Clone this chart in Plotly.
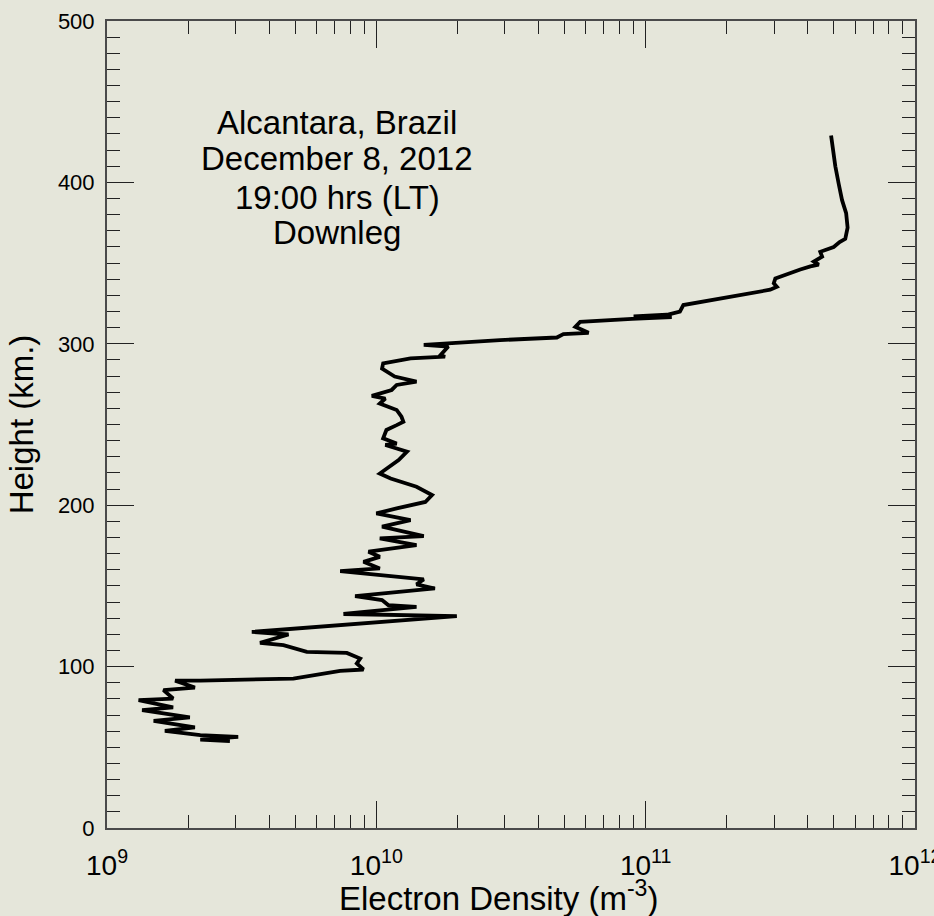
import plotly.graph_objects as go

# Electron density profile, rocket downleg (m^-3 vs. km)
density = [
    4.88e11, 4.95e11, 5.06e11, 5.21e11, 5.36e11, 5.55e11, 5.62e11, 5.51e11, 5.25e11, 4.99e11,
    4.45e11, 4.52e11, 4.21e11, 4.39e11, 4.09e11, 3.75e11, 3.35e11, 3.03e11, 2.99e11, 3.07e11,
    2.90e11, 2.38e11, 1.84e11, 1.38e11, 1.34e11, 1.20e11, 9.02e10, 1.25e11, 8.90e10, 5.71e10,
    5.48e10, 6.14e10, 4.95e10, 4.68e10, 2.88e10, 1.88e10, 1.50e10, 1.85e10, 1.73e10, 1.80e10,
    1.34e10, 1.06e10, 1.05e10, 1.17e10, 1.41e10, 1.19e10, 1.14e10, 9.62e9, 1.08e10, 1.03e10,
    1.19e10, 1.24e10, 1.26e10, 1.19e10, 1.09e10, 1.06e10, 1.19e10, 1.08e10, 1.30e10, 1.21e10,
    1.09e10, 1.03e10, 1.13e10, 1.41e10, 1.61e10, 1.52e10, 1.19e10, 1.00e10, 1.34e10, 1.05e10,
    1.50e10, 1.03e10, 1.41e10, 9.35e9, 1.03e10, 8.96e9, 1.03e10, 7.34e9, 1.50e10, 1.41e10,
    1.65e10, 8.34e9, 1.05e10, 1.11e10, 1.41e10, 7.55e9, 1.99e10, 8.71e9, 3.45e9, 4.72e9,
    3.70e9, 4.52e9, 5.52e9, 7.77e9, 8.71e9, 8.46e9, 8.96e9, 7.34e9, 4.92e9, 2.22e9,
    1.79e9, 2.12e9, 1.62e9, 1.76e9, 1.31e9, 1.76e9, 1.35e9, 2.03e9, 1.49e9, 2.12e9,
    1.64e9, 2.22e9, 3.07e9, 2.22e9, 2.86e9,
]
height_km = [
    429, 420, 410, 399, 389, 381, 372, 365, 363, 360,
    357, 354, 351, 349, 348, 346, 343, 340.5, 337.5, 335.3,
    333.5, 331, 328, 324, 320, 318, 317, 316.5, 315.5, 313.6,
    310.5, 306.8, 306, 303.9, 302.3, 300.3, 299.3, 298.3, 293, 292,
    291, 287.8, 284.7, 279.7, 276.6, 274.5, 271.4, 267.7, 266.1, 263,
    259, 254.8, 251.7, 249.6, 246.6, 241.4, 238.2, 237.3, 233.2, 227.9,
    222.8, 219.6, 216.5, 211.4, 206.3, 202, 198, 194.9, 190.8, 186.7,
    180.9, 179.4, 175.3, 171.2, 168, 164.9, 160.8, 159.2, 154, 151,
    148.4, 143.7, 141.2, 138, 137, 132.6, 131.3, 126.9, 121.5, 119.9,
    114.7, 113.3, 109.1, 108.5, 105, 101.9, 98.2, 97.3, 92.6, 91.3,
    91.3, 87, 85.4, 80.2, 79.2, 74.7, 73.1, 68.5, 66.4, 62.3,
    60.2, 57.5, 56.5, 54.8, 53.8,
]

x_tickvals = [1e9, 1e10, 1e11, 1e12]
x_ticktext = ["10<sup>9</sup>", "10<sup>10</sup>", "10<sup>11</sup>", "10<sup>12</sup>"]
x_minor = [m * 10 ** e for e in (9, 10, 11) for m in range(2, 10)]
y_tickvals = [0, 100, 200, 300, 400, 500]

x_title = "Electron Density (m<sup>-3</sup>)"
y_title = "Height (km.)"
info_lines = ["Alcantara, Brazil", "December 8, 2012", "19:00 hrs (LT)", "Downleg"]

FONT = "Liberation Sans, Arial, sans-serif"
BG = "#E5E6DA"
AXIS = "#4a4a4a"
TICK = "#222222"

fig = go.Figure()
fig.add_trace(go.Scatter(
    x=density, y=height_km, mode="lines",
    line=dict(color="black", width=3.8),
    hoverinfo="skip", showlegend=False,
))

fig.update_xaxes(
    type="log", range=[9, 12],
    tickvals=x_tickvals, ticktext=x_ticktext,
    ticks="inside", ticklen=27, tickwidth=1.3, tickcolor=TICK,
    minor=dict(tickvals=x_minor, ticks="inside", ticklen=13, tickwidth=1.3, tickcolor=TICK),
    showline=True, linecolor=AXIS, linewidth=2, mirror="ticks",
    showgrid=False, zeroline=False,
    tickfont=dict(family=FONT, size=28, color="black"),
    ticklabelstandoff=11, ticklabeloverflow="allow",
)
fig.update_yaxes(
    range=[0, 500], tickvals=y_tickvals,
    ticks="inside", ticklen=27, tickwidth=1.3, tickcolor=TICK,
    minor=dict(dtick=10, ticks="inside", ticklen=13, tickwidth=1.3, tickcolor=TICK),
    showline=True, linecolor=AXIS, linewidth=2, mirror="ticks",
    showgrid=False, zeroline=False,
    tickfont=dict(family=FONT, size=22, color="black"),
    ticklabelstandoff=6,
    title=dict(text=y_title, font=dict(family=FONT, size=33, color="black"), standoff=14),
)

# Horizontal axis title, placed just under the tick labels
fig.add_annotation(
    x=0.4846, y=0.0, xref="paper", yref="paper", yshift=-45,
    text=x_title, showarrow=False, xanchor="center", yanchor="top",
    font=dict(family=FONT, size=33, color="black"),
)

# Site / time caption, one annotation per line
caption_y = [0.8748, 0.829, 0.7819, 0.7373]
for text, yy in zip(info_lines, caption_y):
    fig.add_annotation(
        x=0.2847, y=yy, xref="paper", yref="paper",
        text=text, showarrow=False, xanchor="center", yanchor="middle",
        font=dict(family=FONT, size=33, color="black"),
    )

fig.update_layout(
    width=934, height=916,
    margin=dict(l=107, r=19, t=21, b=88, autoexpand=False),
    paper_bgcolor=BG, plot_bgcolor=BG,
    showlegend=False,
)

fig.write_html("out.html")
